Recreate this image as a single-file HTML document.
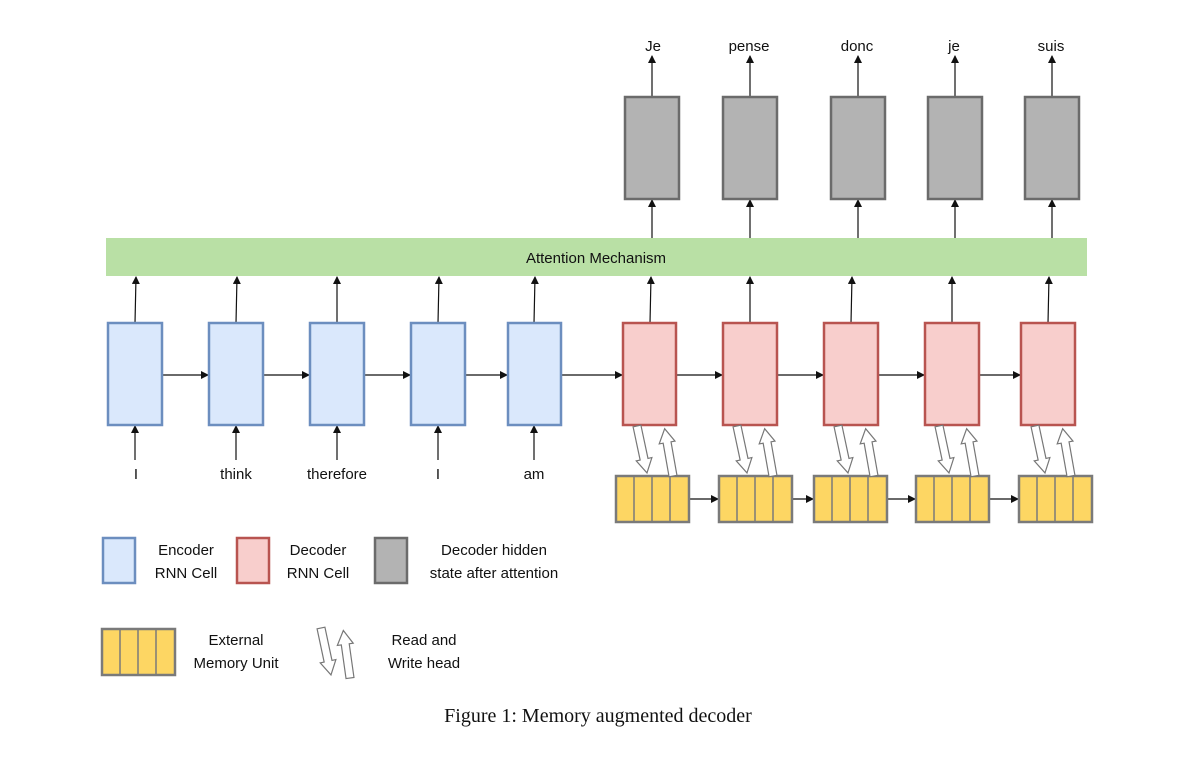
<!DOCTYPE html>
<html><head><meta charset="utf-8"><style>
html,body{margin:0;padding:0;background:#fff;}
svg text{font-family:"Liberation Sans",sans-serif;font-size:15px;fill:#111;}
</style></head><body>
<svg width="1184" height="755" viewBox="0 0 1184 755" xmlns="http://www.w3.org/2000/svg">
<defs>
<marker id="a" markerWidth="8" markerHeight="8" refX="7" refY="4" orient="auto" markerUnits="userSpaceOnUse">
<path d="M0,0 L8,4 L0,8 z" fill="#111"/></marker>
<g id="dn"><polygon points="-4,0 4,0 4,34 8,34 0,48 -8,34 -4,34" fill="#fff" stroke="#777" stroke-width="1.2"/></g>
<g id="up"><polygon points="-4,0 4,0 4,-34 8,-34 0,-48 -8,-34 -4,-34" fill="#fff" stroke="#777" stroke-width="1.2"/></g>
<g id="mem"><rect x="0" y="0" width="73" height="46" fill="#fdd663" stroke="#7a7a7a" stroke-width="2.5"/>
<line x1="18" y1="0" x2="18" y2="46" stroke="#7a7a7a" stroke-width="1.5"/>
<line x1="36" y1="0" x2="36" y2="46" stroke="#7a7a7a" stroke-width="1.5"/>
<line x1="54" y1="0" x2="54" y2="46" stroke="#7a7a7a" stroke-width="1.5"/></g>
</defs>
<g stroke="#111" stroke-width="1.2" fill="none">
<!-- top arrows -->
<line x1="652" y1="97" x2="652" y2="56" marker-end="url(#a)"/>
<line x1="750" y1="97" x2="750" y2="56" marker-end="url(#a)"/>
<line x1="858" y1="97" x2="858" y2="56" marker-end="url(#a)"/>
<line x1="955" y1="97" x2="955" y2="56" marker-end="url(#a)"/>
<line x1="1052" y1="97" x2="1052" y2="56" marker-end="url(#a)"/>
<!-- bar to gray -->
<line x1="652" y1="238" x2="652" y2="200" marker-end="url(#a)"/>
<line x1="750" y1="238" x2="750" y2="200" marker-end="url(#a)"/>
<line x1="858" y1="238" x2="858" y2="200" marker-end="url(#a)"/>
<line x1="955" y1="238" x2="955" y2="200" marker-end="url(#a)"/>
<line x1="1052" y1="238" x2="1052" y2="200" marker-end="url(#a)"/>
<!-- cells to bar -->
<line x1="135" y1="323" x2="136" y2="277" marker-end="url(#a)"/>
<line x1="236" y1="323" x2="237" y2="277" marker-end="url(#a)"/>
<line x1="337" y1="323" x2="337" y2="277" marker-end="url(#a)"/>
<line x1="438" y1="323" x2="439" y2="277" marker-end="url(#a)"/>
<line x1="534" y1="323" x2="535" y2="277" marker-end="url(#a)"/>
<line x1="650" y1="323" x2="651" y2="277" marker-end="url(#a)"/>
<line x1="750" y1="323" x2="750" y2="277" marker-end="url(#a)"/>
<line x1="851" y1="323" x2="852" y2="277" marker-end="url(#a)"/>
<line x1="952" y1="323" x2="952" y2="277" marker-end="url(#a)"/>
<line x1="1048" y1="323" x2="1049" y2="277" marker-end="url(#a)"/>
<!-- inputs -->
<line x1="135" y1="460" x2="135" y2="426" marker-end="url(#a)"/>
<line x1="236" y1="460" x2="236" y2="426" marker-end="url(#a)"/>
<line x1="337" y1="460" x2="337" y2="426" marker-end="url(#a)"/>
<line x1="438" y1="460" x2="438" y2="426" marker-end="url(#a)"/>
<line x1="534" y1="460" x2="534" y2="426" marker-end="url(#a)"/>
<!-- horizontal chain -->
<line x1="162" y1="375" x2="208" y2="375" marker-end="url(#a)"/>
<line x1="263" y1="375" x2="309" y2="375" marker-end="url(#a)"/>
<line x1="364" y1="375" x2="410" y2="375" marker-end="url(#a)"/>
<line x1="465" y1="375" x2="507" y2="375" marker-end="url(#a)"/>
<line x1="561" y1="375" x2="622" y2="375" marker-end="url(#a)"/>
<line x1="676" y1="375" x2="722" y2="375" marker-end="url(#a)"/>
<line x1="777" y1="375" x2="823" y2="375" marker-end="url(#a)"/>
<line x1="878" y1="375" x2="924" y2="375" marker-end="url(#a)"/>
<line x1="979" y1="375" x2="1020" y2="375" marker-end="url(#a)"/>
<!-- memory chain -->
<line x1="689" y1="499" x2="718" y2="499" marker-end="url(#a)"/>
<line x1="792" y1="499" x2="813" y2="499" marker-end="url(#a)"/>
<line x1="887" y1="499" x2="915" y2="499" marker-end="url(#a)"/>
<line x1="989" y1="499" x2="1018" y2="499" marker-end="url(#a)"/>
</g>
<!-- gray boxes -->
<g fill="#b3b3b3" stroke="#6b6b6b" stroke-width="2.5">
<rect x="625" y="97" width="54" height="102"/>
<rect x="723" y="97" width="54" height="102"/>
<rect x="831" y="97" width="54" height="102"/>
<rect x="928" y="97" width="54" height="102"/>
<rect x="1025" y="97" width="54" height="102"/>
</g>
<rect x="106" y="238" width="981" height="38" fill="#b9e0a5"/>
<text x="596" y="263" text-anchor="middle">Attention Mechanism</text>
<g fill="#dae8fc" stroke="#6c8ebf" stroke-width="2.5">
<rect x="108" y="323" width="54" height="102"/>
<rect x="209" y="323" width="54" height="102"/>
<rect x="310" y="323" width="54" height="102"/>
<rect x="411" y="323" width="54" height="102"/>
<rect x="508" y="323" width="53" height="102"/>
</g>
<g fill="#f8cecc" stroke="#b85450" stroke-width="2.5">
<rect x="623" y="323" width="53" height="102"/>
<rect x="723" y="323" width="54" height="102"/>
<rect x="824" y="323" width="54" height="102"/>
<rect x="925" y="323" width="54" height="102"/>
<rect x="1021" y="323" width="54" height="102"/>
</g>
<use href="#mem" x="616" y="476"/>
<use href="#mem" x="719" y="476"/>
<use href="#mem" x="814" y="476"/>
<use href="#mem" x="916" y="476"/>
<use href="#mem" x="1019" y="476"/>
<!-- read/write heads -->
<g transform="translate(637,426) rotate(-12)"><use href="#dn"/></g>
<g transform="translate(673,476) rotate(-10)"><use href="#up"/></g>
<g transform="translate(737,426) rotate(-12)"><use href="#dn"/></g>
<g transform="translate(773,476) rotate(-10)"><use href="#up"/></g>
<g transform="translate(838,426) rotate(-12)"><use href="#dn"/></g>
<g transform="translate(874,476) rotate(-10)"><use href="#up"/></g>
<g transform="translate(939,426) rotate(-12)"><use href="#dn"/></g>
<g transform="translate(975,476) rotate(-10)"><use href="#up"/></g>
<g transform="translate(1035,426) rotate(-12)"><use href="#dn"/></g>
<g transform="translate(1071,476) rotate(-10)"><use href="#up"/></g>
<!-- labels -->
<g text-anchor="middle">
<text x="653" y="51">Je</text><text x="749" y="51">pense</text><text x="857" y="51">donc</text><text x="954" y="51">je</text><text x="1051" y="51">suis</text>
<text x="136" y="479">I</text><text x="236" y="479">think</text><text x="337" y="479">therefore</text><text x="438" y="479">I</text><text x="534" y="479">am</text>
<text x="186" y="555">Encoder</text><text x="186" y="578">RNN Cell</text>
<text x="318" y="555">Decoder</text><text x="318" y="578">RNN Cell</text>
<text x="494" y="555">Decoder hidden</text><text x="494" y="578">state after attention</text>
<text x="236" y="645">External</text><text x="236" y="668">Memory Unit</text>
<text x="424" y="645">Read and</text><text x="424" y="668">Write head</text>
</g>
<rect x="103" y="538" width="32" height="45" fill="#dae8fc" stroke="#6c8ebf" stroke-width="2.5"/>
<rect x="237" y="538" width="32" height="45" fill="#f8cecc" stroke="#b85450" stroke-width="2.5"/>
<rect x="375" y="538" width="32" height="45" fill="#b3b3b3" stroke="#6b6b6b" stroke-width="2.5"/>
<use href="#mem" x="102" y="629"/>
<g transform="translate(321,628) rotate(-12)"><use href="#dn"/></g>
<g transform="translate(350,678) rotate(-8)"><use href="#up"/></g>
<text x="598" y="722" text-anchor="middle" style="font-family:'Liberation Serif',serif;font-size:20px;">Figure 1: Memory augmented decoder</text>
</svg>
</body></html>
